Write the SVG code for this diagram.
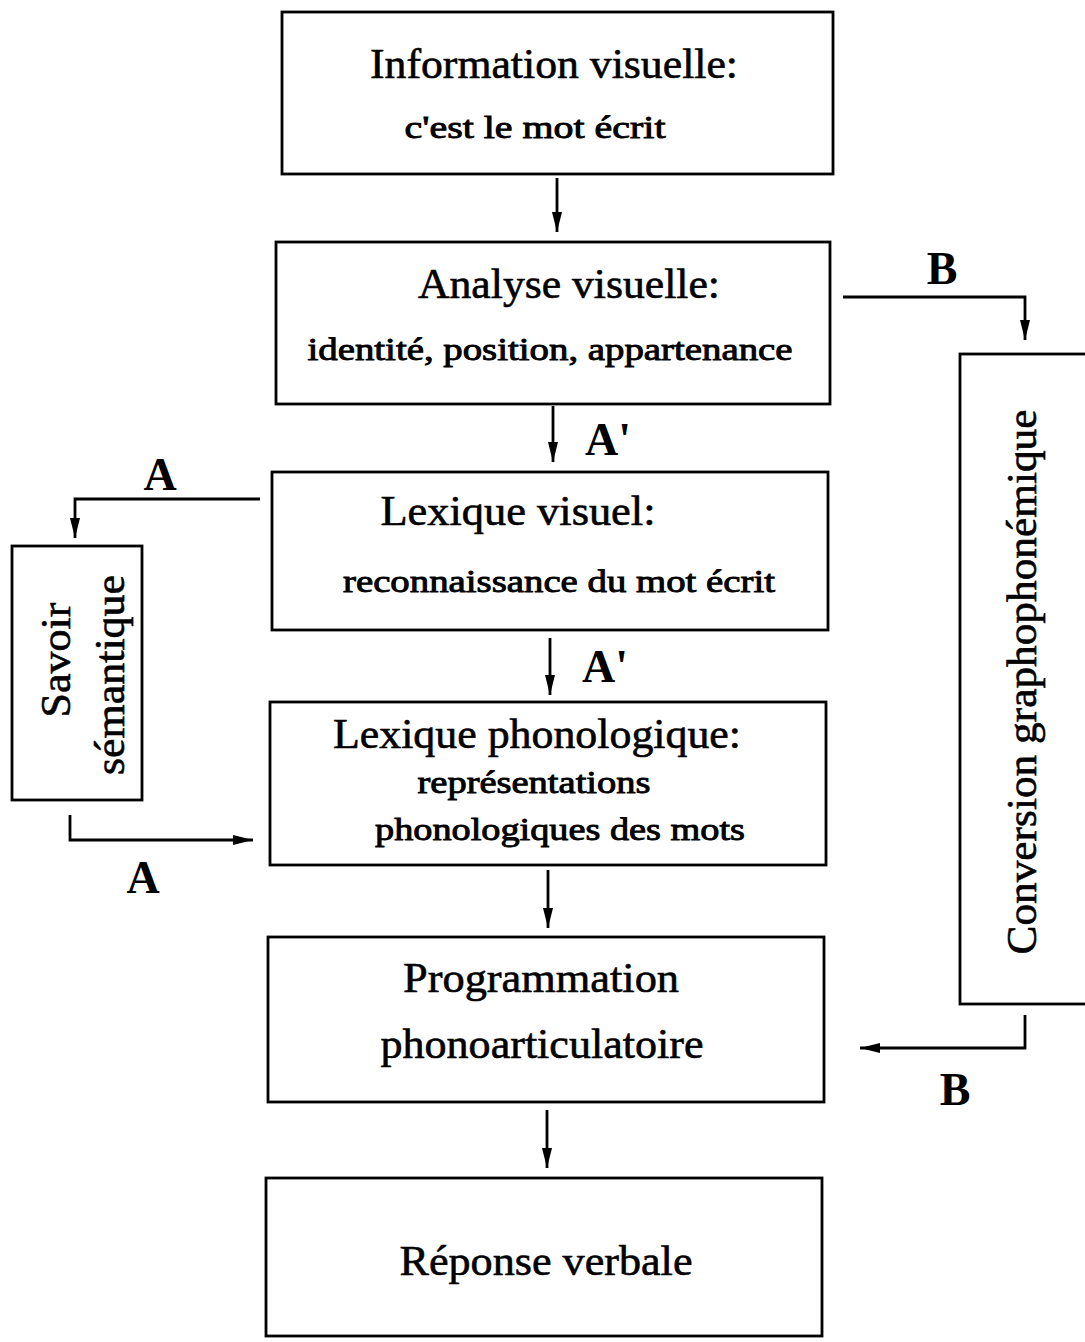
<svg xmlns="http://www.w3.org/2000/svg" width="1085" height="1342" viewBox="0 0 1085 1342">
<defs>
<marker id="ah" viewBox="0 0 20 10" refX="20" refY="5" markerWidth="20" markerHeight="11" markerUnits="userSpaceOnUse" orient="auto">
<path d="M0,0 L20,5 L0,10 Z" fill="#000"/>
</marker>
</defs>
<style>
.box{fill:#fff;stroke:#000;stroke-width:2.8}
.t1{font-family:"Liberation Serif","Times New Roman",serif;font-size:42px;fill:#000;stroke:#000;stroke-width:0.6;text-anchor:middle}
.t2{font-family:"Liberation Serif","Times New Roman",serif;font-size:32px;fill:#000;stroke:#000;stroke-width:0.9;text-anchor:middle}
.lbl{font-family:"Liberation Serif","Times New Roman",serif;font-size:46px;font-weight:bold;fill:#000;text-anchor:middle}
.c{fill:none;stroke:#000;stroke-width:2.8;marker-end:url(#ah)}
</style>
<rect width="1085" height="1342" fill="#fff"/>
<g id="n1"><rect class="box" x="282" y="12" width="551" height="162"/>
<text class="t1" x="554" y="78" textLength="368" lengthAdjust="spacingAndGlyphs">Information visuelle:</text>
<text class="t2" x="535" y="138" textLength="261" lengthAdjust="spacingAndGlyphs">c'est le mot écrit</text></g>
<g id="n2"><rect class="box" x="276" y="242" width="554" height="162"/>
<text class="t1" x="569" y="298" textLength="302" lengthAdjust="spacingAndGlyphs">Analyse visuelle:</text>
<text class="t2" x="550" y="360" textLength="485" lengthAdjust="spacingAndGlyphs">identité, position, appartenance</text></g>
<g id="n3"><rect class="box" x="272" y="472" width="556" height="158"/>
<text class="t1" x="518" y="525" textLength="275" lengthAdjust="spacingAndGlyphs">Lexique visuel:</text>
<text class="t2" x="559" y="592" textLength="432" lengthAdjust="spacingAndGlyphs">reconnaissance du mot écrit</text></g>
<g id="n4"><rect class="box" x="270" y="702" width="556" height="163"/>
<text class="t1" x="537" y="748" textLength="408" lengthAdjust="spacingAndGlyphs">Lexique phonologique:</text>
<text class="t2" x="534" y="793" textLength="233" lengthAdjust="spacingAndGlyphs">représentations</text>
<text class="t2" x="560" y="840" textLength="370" lengthAdjust="spacingAndGlyphs">phonologiques des mots</text></g>
<g id="n5"><rect class="box" x="268" y="937" width="556" height="165"/>
<text class="t1" x="541" y="992" textLength="276" lengthAdjust="spacingAndGlyphs">Programmation</text>
<text class="t1" x="542" y="1058" textLength="323" lengthAdjust="spacingAndGlyphs">phonoarticulatoire</text></g>
<g id="n6"><rect class="box" x="266" y="1178" width="556" height="158"/>
<text class="t1" x="546" y="1275" textLength="293" lengthAdjust="spacingAndGlyphs">Réponse verbale</text></g>
<g id="n7"><rect class="box" x="960" y="354" width="140" height="650"/>
<text class="t1" transform="translate(1036,682) rotate(-90)" textLength="545" lengthAdjust="spacingAndGlyphs">Conversion graphophonémique</text></g>
<g id="n8"><rect class="box" x="12" y="546" width="130" height="254"/>
<text class="t1" transform="translate(70,660) rotate(-90)" textLength="115" lengthAdjust="spacingAndGlyphs">Savoir</text>
<text class="t1" transform="translate(124,675) rotate(-90)" textLength="200" lengthAdjust="spacingAndGlyphs">sémantique</text></g>
<g id="connectors">
<path class="c" d="M557,178 V232"/>
<path class="c" d="M553,406 V462"/>
<path class="c" d="M550,638 V695"/>
<path class="c" d="M548,870 V928"/>
<path class="c" d="M547,1110 V1168"/>
<path class="c" d="M843,297 H1025 V340"/>
<path class="c" d="M260,499 H75 V538"/>
<path class="c" d="M70,815 V840 H253"/>
<path class="c" d="M1025,1015 V1048 H860"/>
</g>
<g id="labels">
<text class="lbl" x="942" y="284">B</text>
<text class="lbl" x="608" y="455">A'</text>
<text class="lbl" x="160" y="490">A</text>
<text class="lbl" x="605" y="682">A'</text>
<text class="lbl" x="143" y="893">A</text>
<text class="lbl" x="955" y="1105">B</text>
</g>
</svg>
